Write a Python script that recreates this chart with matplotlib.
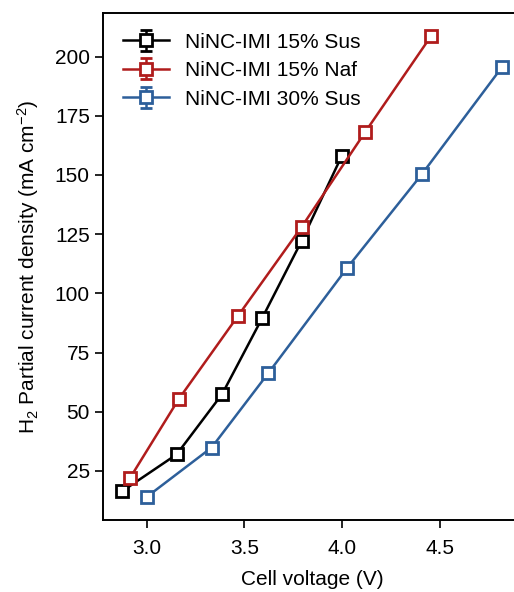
import numpy as np
import matplotlib
matplotlib.use('Agg')
import matplotlib.pyplot as plt

plt.rcParams['font.family'] = ['Liberation Sans', 'DejaVu Sans']
plt.rcParams['mathtext.default'] = 'regular'

# cell voltage (V) and H2 partial current density (mA cm-2)
v_15_sus = [2.874, 3.154, 3.387, 3.592, 3.794, 3.999]
j_15_sus = [16.4, 32.0, 57.5, 89.6, 122.2, 158.0]

v_15_naf = [2.915, 3.165, 3.469, 3.794, 4.118, 4.455]
j_15_naf = [22.0, 55.4, 90.6, 128.1, 168.0, 208.5]

v_30_sus = [3.000, 3.333, 3.623, 4.028, 4.409, 4.819]
j_30_sus = [14.0, 34.9, 66.3, 110.9, 150.3, 195.5]

labels = ['NiNC-IMI 15% Sus', 'NiNC-IMI 15% Naf', 'NiNC-IMI 30% Sus']
colors = ['black', '#b01c1c', '#2d5f9a']

fig = plt.figure(figsize=[5.14, 5.92], dpi=100)
ax = fig.add_axes([0.2004, 0.1216, 0.813, 0.8565])

for v, j, lab, c in zip([v_15_sus, v_15_naf, v_30_sus],
                        [j_15_sus, j_15_naf, j_30_sus], labels, colors):
    ax.errorbar(v, j, yerr=0, color=c, marker='s', markersize=9,
                markerfacecolor='white', markeredgecolor=c, markeredgewidth=2.0,
                linewidth=1.8, capsize=4, elinewidth=1.8, capthick=1.8, label=lab)

ax.set_xlim(2.777, 4.916)
ax.set_ylim(4.3, 218.4)
ax.set_xticks([3.0, 3.5, 4.0, 4.5])
ax.set_yticks(np.arange(25, 201, 25))
ax.tick_params(labelsize=15, length=6, width=1.2, direction='out')
ax.tick_params(axis='x', pad=8)
for s in ax.spines.values():
    s.set_linewidth(1.4)

ax.set_xlabel('Cell voltage (V)', fontsize=15, labelpad=8)
ax.set_ylabel('H$_2$ Partial current density (mA cm$^{-2}$)', fontsize=15, labelpad=10)
ax.legend(loc='upper left', frameon=False, fontsize=15, handlelength=2.2,
          borderaxespad=0.55, labelspacing=0.45, handletextpad=0.8)

plt.savefig('out.png', dpi=100)
